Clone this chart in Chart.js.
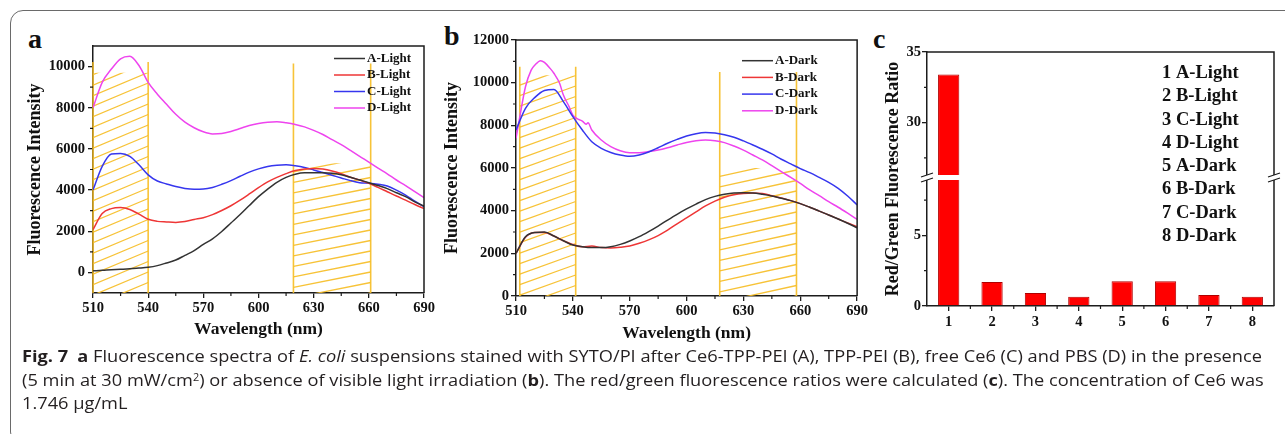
<!DOCTYPE html>
<html>
<head>
<meta charset="utf-8">
<script src="https://cdn.jsdelivr.net/npm/chart.js@4.4.1/dist/chart.umd.min.js"></script>
<style>
  body { margin: 0; background: #fff; width: 1285px; height: 434px; overflow: hidden; position: relative; }
  #frame { position: absolute; left: 10px; top: 10px; width: 1320px; height: 435px; box-sizing: border-box;
           border: 1.5px solid #6a6a6a; border-radius: 13px; }
  canvas { position: absolute; }
  .letter { position: absolute; font: bold 28px "Liberation Serif", serif; line-height: 28px; color: #111; }
  #caption { position: absolute; left: 22px; top: 344px; font-family: "Open Sans", sans-serif; font-size: 16.5px;
             line-height: 23.5px; color: #231f20; }
  .ln { white-space: nowrap; width: max-content; transform-origin: left center; }
  .ln sup { font-size: 0.6em; vertical-align: 0.55em; line-height: 0; }
</style>
</head>
<body>
<div id="frame"></div>
<div class="letter" style="left:28px;top:25px">a</div>
<div class="letter" style="left:444px;top:22px">b</div>
<div class="letter" style="left:873px;top:25px">c</div>
<canvas id="chartA" width="420" height="330" style="left:20px;top:20px;width:420px;height:330px"></canvas>
<canvas id="chartB" width="430" height="330" style="left:440px;top:20px;width:430px;height:330px"></canvas>
<canvas id="chartC" width="425" height="330" style="left:860px;top:20px;width:425px;height:330px"></canvas>
<div id="caption">
  <div class="ln"><b>Fig. 7</b>&ensp;<b>a</b> Fluorescence spectra of <i>E. coli</i> suspensions stained with SYTO/PI after Ce6-TPP-PEI (A), TPP-PEI (B), free Ce6 (C) and PBS (D) in the presence</div>
  <div class="ln">(5 min at 30 mW/cm<sup>2</sup>) or absence of visible light irradiation (<b>b</b>). The red/green fluorescence ratios were calculated (<b>c</b>). The concentration of Ce6 was</div>
  <div class="ln">1.746 μg/mL</div>
</div>
<script>
// wavelength grid (nm)
const wavelength = [510, 515, 520, 525, 530, 535, 540, 545, 550, 555, 560, 565, 570, 575, 580, 585, 590, 595, 600,
  605, 610, 615, 620, 625, 630, 635, 640, 645, 650, 655, 660, 665, 670, 675, 680, 685, 690];
const waveTicks = [510, 540, 570, 600, 630, 660, 690];
const waveMinor = [525, 555, 585, 615, 645, 675];

// panel a - with light
const lightA = [80, 100, 130, 150, 180, 210, 250, 330, 460, 600, 830, 1060, 1360, 1630, 1990, 2400, 2810, 3250, 3680,
  4050, 4380, 4620, 4770, 4840, 4840, 4840, 4820, 4740, 4620, 4490, 4360, 4220, 4070, 3870, 3680, 3430, 3220];
const lightB = [2080, 2860, 3100, 3150, 3060, 2830, 2580, 2480, 2450, 2430, 2470, 2570, 2660, 2810, 3010, 3240, 3510, 3810, 4120,
  4400, 4620, 4800, 4950, 5030, 5050, 5020, 4930, 4800, 4620, 4490, 4330, 4130, 3920, 3710, 3510, 3300, 3100];
const lightC = [4000, 5150, 5750, 5780, 5640, 5230, 4740, 4440, 4300, 4170, 4080, 4040, 4050, 4130, 4280, 4460, 4670, 4870, 5030,
  5150, 5210, 5230, 5180, 5100, 4980, 4850, 4720, 4590, 4460, 4360, 4330, 4280, 4200, 4000, 3760, 3460, 3190];
const lightD = [8000, 9230, 9880, 10380, 10500, 10050, 9230, 8660, 8170, 7680, 7300, 7030, 6830, 6730, 6750, 6850, 6990, 7140, 7240,
  7300, 7320, 7270, 7190, 7070, 6900, 6700, 6450, 6210, 5930, 5640, 5360, 5070, 4790, 4490, 4220, 3920, 3630];
const lightLabels = ['A-Light', 'B-Light', 'C-Light', 'D-Light'];
const intensityTicksA = [0, 2000, 4000, 6000, 8000, 10000];
const intensityMinorA = [1000, 3000, 5000, 7000, 9000];

// panel b - dark
const darkA = [2000, 2780, 2980, 3000, 2810, 2590, 2390, 2310, 2270, 2270, 2310, 2420, 2580, 2780, 3020, 3280, 3560, 3830, 4080,
  4310, 4520, 4670, 4770, 4830, 4840, 4830, 4770, 4690, 4580, 4470, 4330, 4160, 3980, 3800, 3610, 3410, 3200];
const darkB = [2000, 2750, 2980, 2980, 2810, 2590, 2410, 2310, 2340, 2270, 2250, 2280, 2340, 2470, 2630, 2830, 3090, 3380, 3660,
  3940, 4220, 4450, 4630, 4750, 4810, 4830, 4800, 4700, 4590, 4470, 4330, 4160, 3980, 3800, 3610, 3420, 3250];
const darkC = [7780, 8800, 9310, 9630, 9680, 9110, 8410, 7780, 7230, 6920, 6730, 6610, 6550, 6610, 6750, 6950, 7160, 7340, 7500,
  7610, 7660, 7640, 7560, 7440, 7270, 7080, 6880, 6660, 6410, 6190, 5970, 5780, 5560, 5330, 5050, 4690, 4270];
const darkDWave = [510, 512, 515, 518, 520, 523, 525, 528, 530, 533, 535, 538, 540, 543, 545, 547, 548, 550, 555, 560,
  565, 570, 575, 580, 585, 590, 595, 600, 605, 610, 615, 620, 625, 630, 635, 640, 645, 650, 655, 660, 665, 670, 675, 680, 685, 690];
const darkD = [7390, 8400, 9810, 10590, 10830, 11030, 10950, 10670, 10440, 9970, 9420, 8880, 8480, 8280, 8200, 8050, 8120, 7780, 7310, 7000,
  6810, 6720, 6720, 6770, 6840, 6950, 7080, 7200, 7280, 7310, 7280, 7190, 7030, 6840, 6610, 6380, 6110, 5830, 5560, 5280,
  4970, 4700, 4420, 4160, 3880, 3590];
const darkLabels = ['A-Dark', 'B-Dark', 'C-Dark', 'D-Dark'];
const intensityTicksB = [0, 2000, 4000, 6000, 8000, 10000, 12000];
const intensityMinorB = [1000, 3000, 5000, 7000, 9000, 11000];

// shaded (green / red emission) windows, nm
const bandsA = [[510, 540], [619, 661]];
const hatchTopA = [9700, 5300];
const lineTopA = [10220, 10150];
const bandsB = [[512, 541.5], [617.5, 658]];
const hatchTopB = [10350, 6000];
const lineTopB = [10750, 10500];

// panel c - red/green ratio
const sampleIds = ['1', '2', '3', '4', '5', '6', '7', '8'];
const ratio = [33.4, 1.7, 0.92, 0.65, 1.75, 1.75, 0.78, 0.65];
const sampleNames = ['1 A-Light', '2 B-Light', '3 C-Light', '4 D-Light', '5 A-Dark', '6 B-Dark', '7 C-Dark', '8 D-Dark'];
const ratioTicks = [0, 5, 30, 35];
const ratioMinor = [2.5, 7.5, 27.5, 32.5];
const breakLow = 9, breakHigh = 26;

const colors = ['#333333', '#ee3636', '#3636ee', '#ee44ee'];
const axisColor = '#1c1c1c';
const serif = '"Liberation Serif", "Times New Roman", serif';

Chart.defaults.font.family = serif;
Chart.defaults.font.weight = 'bold';
Chart.defaults.color = '#111';

// axis break helpers for panel c
const gap = breakHigh - breakLow;
const toAxis = v => v > breakLow ? v - gap : v;
const fromAxis = v => v > breakLow ? v + gap : v;

function pts(xs, ys) {
  return xs.map((x, i) => ({ x: x, y: ys[i] }));
}

// frame on top/right + minor ticks
const framePlugin = {
  id: 'frame',
  afterDatasetsDraw(chart, args, opts) {
    const { ctx, chartArea: a, scales } = chart;
    ctx.save();
    ctx.strokeStyle = axisColor;
    ctx.lineWidth = 1.5;
    ctx.beginPath();
    ctx.moveTo(a.left, a.top);
    ctx.lineTo(a.right, a.top);
    ctx.lineTo(a.right, a.bottom);
    ctx.stroke();
    ctx.lineWidth = 1.2;
    ctx.beginPath();
    (opts.minorX || []).forEach(v => {
      const x = scales.x.getPixelForValue(v);
      ctx.moveTo(x, a.bottom);
      ctx.lineTo(x, a.bottom + 3);
    });
    (opts.minorY || []).forEach(v => {
      const y = scales.y.getPixelForValue(v);
      ctx.moveTo(a.left, y);
      ctx.lineTo(a.left - 3, y);
    });
    ctx.stroke();
    ctx.restore();
  }
};

// hatched emission windows
const hatchPlugin = {
  id: 'hatch',
  beforeDatasetsDraw(chart, args, opts) {
    const { ctx, chartArea: a, scales: { x, y } } = chart;
    ctx.save();
    ctx.strokeStyle = opts.color;
    opts.bands.forEach((b, i) => {
      const x0 = x.getPixelForValue(b[0]);
      const x1 = x.getPixelForValue(b[1]);
      const yTop = y.getPixelForValue(opts.hatchTop[i]);
      const rise = opts.slope[i] * (x1 - x0);
      ctx.save();
      ctx.beginPath();
      ctx.rect(x0, yTop, x1 - x0, a.bottom - yTop);
      ctx.clip();
      ctx.lineWidth = 1.3;
      ctx.beginPath();
      for (let yy = a.bottom + rise; yy > yTop - 1; yy -= opts.spacing) {
        ctx.moveTo(x0, yy);
        ctx.lineTo(x1, yy - rise);
      }
      ctx.stroke();
      ctx.restore();
      const yLine = y.getPixelForValue(opts.lineTop[i]);
      ctx.lineWidth = 1.6;
      ctx.beginPath();
      [x0, x1].forEach(px => {
        ctx.moveTo(px, yLine);
        ctx.lineTo(px, a.bottom);
      });
      ctx.stroke();
    });
    ctx.restore();
  }
};

// line legend drawn inside the plot
const keyPlugin = {
  id: 'key',
  afterDraw(chart, args, opts) {
    const ctx = chart.ctx;
    ctx.save();
    ctx.font = 'bold 13px ' + serif;
    ctx.textBaseline = 'middle';
    chart.data.datasets.forEach((ds, i) => {
      const y = opts.y + i * opts.gap;
      ctx.strokeStyle = ds.borderColor;
      ctx.lineWidth = 1.5;
      ctx.beginPath();
      ctx.moveTo(opts.x, y);
      ctx.lineTo(opts.x + opts.len, y);
      ctx.stroke();
      ctx.fillStyle = '#111';
      ctx.fillText(ds.label, opts.x + opts.len + 2, y);
    });
    ctx.restore();
  }
};

const plain = v => String(v);

function spectrumOptions(cfg) {
  return {
    responsive: false,
    animation: false,
    devicePixelRatio: 1,
    events: [],
    layout: { padding: cfg.padding },
    scales: {
      x: {
        type: 'linear', min: 510, max: 690,
        afterBuildTicks: s => { s.ticks = waveTicks.map(v => ({ value: v })); },
        afterFit: s => { s.height = cfg.xHeight; },
        ticks: { font: { size: 14.5 }, padding: cfg.xTickPad, color: '#111', callback: plain },
        grid: { drawOnChartArea: false, tickLength: 5, color: axisColor, lineWidth: 1.3 },
        border: { color: axisColor, width: 1.5 },
        title: { display: true, text: 'Wavelength (nm)', font: { size: 17.5 }, padding: { top: 0, bottom: cfg.xTitlePad }, color: '#111' }
      },
      y: {
        min: cfg.yMin, max: cfg.yMax,
        afterBuildTicks: s => { s.ticks = cfg.yTicks.map(v => ({ value: v })); },
        afterFit: s => { s.width = cfg.yWidth; },
        ticks: { font: { size: 14.5 }, padding: cfg.yTickPad, color: '#111', callback: plain },
        grid: { drawOnChartArea: false, tickLength: 5, color: axisColor, lineWidth: 1.3 },
        border: { color: axisColor, width: 1.5 },
        title: { display: true, text: 'Fluorescence Intensity', font: { size: 18 }, padding: { top: cfg.yTitlePad, bottom: 0 }, color: '#111' }
      }
    },
    plugins: {
      legend: { display: false },
      tooltip: { enabled: false },
      frame: { minorX: waveMinor, minorY: cfg.yMinor },
      hatch: { bands: cfg.bands, hatchTop: cfg.hatchTop, lineTop: cfg.lineTop, slope: cfg.slope,
               spacing: 10.5, color: 'rgba(246,188,34,0.9)' },
      key: cfg.key
    }
  };
}

function lineSet(label, xs, ys, color) {
  return {
    label: label, data: pts(xs, ys), borderColor: color, backgroundColor: color,
    borderWidth: 1.5, pointRadius: 0, cubicInterpolationMode: 'monotone', fill: false
  };
}

new Chart(document.getElementById('chartA'), {
  type: 'line',
  data: {
    datasets: [
      lineSet(lightLabels[0], wavelength, lightA, colors[0]),
      lineSet(lightLabels[1], wavelength, lightB, colors[1]),
      lineSet(lightLabels[2], wavelength, lightC, colors[2]),
      lineSet(lightLabels[3], wavelength, lightD, colors[3])
    ]
  },
  options: spectrumOptions({
    padding: { left: 0, top: 26, right: 16, bottom: 0 },
    xHeight: 57, yWidth: 73, xTickPad: 1.5, yTickPad: 3, xTitlePad: 10.5, yTitlePad: 5,
    yMin: -1000, yMax: 11000, yTicks: intensityTicksA, yMinor: intensityMinorA,
    bands: bandsA, hatchTop: hatchTopA, lineTop: lineTopA, slope: [0.42, 0.2],
    key: { x: 314, y: 38.5, gap: 16.5, len: 31 }
  }),
  plugins: [hatchPlugin, framePlugin, keyPlugin]
});

new Chart(document.getElementById('chartB'), {
  type: 'line',
  data: {
    datasets: [
      lineSet(darkLabels[0], wavelength, darkA, colors[0]),
      lineSet(darkLabels[1], wavelength, darkB, colors[1]),
      lineSet(darkLabels[2], wavelength, darkC, colors[2]),
      lineSet(darkLabels[3], darkDWave, darkD, colors[3])
    ]
  },
  options: spectrumOptions({
    padding: { left: 0, top: 20, right: 9, bottom: 0 },
    xHeight: 54, yWidth: 76, xTickPad: 2, yTickPad: 2, xTitlePad: 6.5, yTitlePad: 1.2,
    yMin: 0, yMax: 12000, yTicks: intensityTicksB, yMinor: intensityMinorB,
    bands: bandsB, hatchTop: hatchTopB, lineTop: lineTopB, slope: [0.36, 0.22],
    key: { x: 302, y: 40.7, gap: 16.7, len: 31 }
  }),
  plugins: [hatchPlugin, framePlugin, keyPlugin]
});

// break marks on the ratio axis + sample list
const breakPlugin = {
  id: 'axisBreak',
  afterDatasetsDraw(chart) {
    const { ctx, chartArea: a, scales: { y } } = chart;
    const yb = y.getPixelForValue(breakLow);
    ctx.save();
    ctx.fillStyle = '#fff';
    ctx.beginPath();
    ctx.moveTo(a.left - 7, yb + 1);
    ctx.lineTo(a.right + 7, yb + 1);
    ctx.lineTo(a.right + 7, yb - 4);
    ctx.lineTo(a.left - 7, yb - 4);
    ctx.closePath();
    ctx.fill();
    ctx.strokeStyle = axisColor;
    ctx.lineWidth = 1.3;
    ctx.beginPath();
    [a.left, a.right].forEach(x => {
      ctx.moveTo(x - 6, yb + 3);
      ctx.lineTo(x + 6, yb - 1);
      ctx.moveTo(x - 6, yb - 2);
      ctx.lineTo(x + 6, yb - 6);
    });
    ctx.stroke();
    ctx.restore();
  },
  afterDraw(chart, args, opts) {
    const ctx = chart.ctx;
    ctx.save();
    ctx.font = 'bold 18.5px ' + serif;
    ctx.fillStyle = '#111';
    ctx.textBaseline = 'middle';
    sampleNames.forEach((t, i) => ctx.fillText(t, opts.x, opts.y + i * opts.gap));
    ctx.restore();
  }
};

new Chart(document.getElementById('chartC'), {
  type: 'bar',
  data: {
    labels: sampleIds,
    datasets: [{
      label: 'Red/Green Fluorescence Ratio',
      data: ratio.map(toAxis),
      backgroundColor: '#ff0000',
      borderColor: '#b00000',
      borderWidth: 1,
      barPercentage: 0.49,
      categoryPercentage: 1
    }]
  },
  options: {
    responsive: false,
    animation: false,
    devicePixelRatio: 1,
    events: [],
    layout: { padding: { left: 0, top: 32, right: 11, bottom: 0 } },
    scales: {
      x: {
        afterFit: s => { s.height = 44; },
        ticks: { font: { size: 14.5 }, padding: 2.5, color: '#111' },
        grid: { offset: false, drawOnChartArea: false, tickLength: 5, color: axisColor, lineWidth: 1.3 },
        border: { color: axisColor, width: 1.5 }
      },
      y: {
        min: 0, max: toAxis(35),
        afterBuildTicks: s => { s.ticks = ratioTicks.map(v => ({ value: toAxis(v) })); },
        afterFit: s => { s.width = 67; },
        ticks: { font: { size: 14.5 }, padding: 1, color: '#111', callback: v => String(fromAxis(v)) },
        grid: { drawOnChartArea: false, tickLength: 5, color: axisColor, lineWidth: 1.3 },
        border: { color: axisColor, width: 1.5 },
        title: { display: true, text: 'Red/Green Fluorescence Ratio', font: { size: 18 }, padding: { top: 22.2, bottom: 0 }, color: '#111' }
      }
    },
    plugins: {
      legend: { display: false },
      tooltip: { enabled: false },
      frame: { minorX: [0.5, 1.5, 2.5, 3.5, 4.5, 5.5, 6.5], minorY: ratioMinor.map(toAxis) },
      axisBreak: { x: 302, y: 53.3, gap: 23.25 }
    }
  },
  plugins: [framePlugin, breakPlugin]
});

// fit caption lines to the figure width
const lines = document.querySelectorAll('#caption .ln');
const k = 1240 / lines[0].getBoundingClientRect().width;
lines.forEach(l => { l.style.transform = 'scaleX(' + k + ')'; });
</script>
</body>
</html>
